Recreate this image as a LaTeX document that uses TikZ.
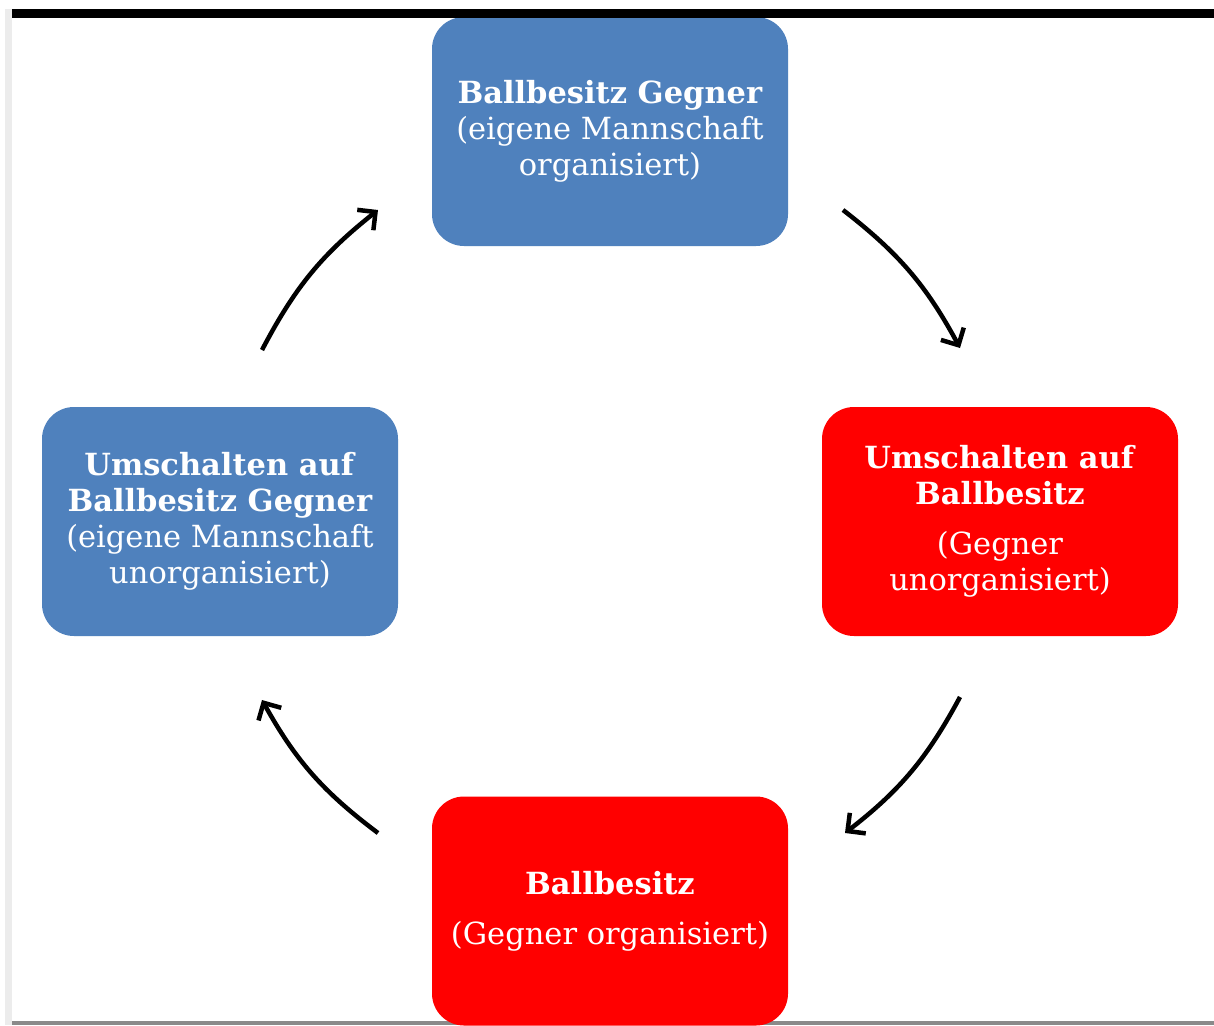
\documentclass[tikz,border=0pt]{standalone}
\usepackage{fontspec}
\setmainfont{DejaVu Serif}
\usetikzlibrary{arrows.meta}
\definecolor{boxblue}{HTML}{4F81BD}
\definecolor{boxred}{HTML}{FF0000}
\definecolor{stripgray}{HTML}{ECECEC}
\definecolor{linegray}{HTML}{8A8A8A}
\begin{document}
\begin{tikzpicture}[x=1pt,y=-1pt,
  stage/.style={rounded corners=32pt, minimum width=356pt, minimum height=229pt,
    text=white, align=center, inner sep=0pt,
    font=\fontsize{30.5}{36}\selectfont},
  cyc/.style={line width=4.5pt, -{Straight Barb[length=13pt,width=26pt,line width=4.5pt]}}]
\useasboundingbox (0,0) rectangle (1214,1025);
\fill[white] (0,0) rectangle (1214,1025);
\fill[stripgray] (5,9) rectangle (12,1025);
\fill[linegray] (12,1021) rectangle (1214,1025);

\node[stage, fill=boxblue] (top) at (610,131.5)
  {\textbf{Ballbesitz Gegner}\\(eigene Mannschaft\\organisiert)};
\node[stage, fill=boxred] (right) at (1000,521.5)
  {\textbf{Umschalten auf}\\\textbf{Ballbesitz}\\[14pt](Gegner\\unorganisiert)};
\node[stage, fill=boxred] (bottom) at (610,911)
  {\textbf{Ballbesitz}\\[14pt](Gegner organisiert)};
\node[stage, fill=boxblue] (left) at (220,521.5)
  {\textbf{Umschalten auf}\\\textbf{Ballbesitz Gegner}\\(eigene Mannschaft\\unorganisiert)};

\fill[black] (12,9) rectangle (1214,18);

\coordinate (a1) at (843,210);
\coordinate (b1) at (960,348);
\coordinate (a2) at (960,697);
\coordinate (b2) at (845,833);
\coordinate (a3) at (378,833);
\coordinate (b3) at (262,700);
\coordinate (a4) at (262,350);
\coordinate (b4) at (378,210);
\draw[cyc] (a1) to[bend left=12] (b1);
\draw[cyc] (a2) to[bend left=12] (b2);
\draw[cyc] (a3) to[bend left=12] (b3);
\draw[cyc] (a4) to[bend left=12] (b4);
\end{tikzpicture}
\end{document}
